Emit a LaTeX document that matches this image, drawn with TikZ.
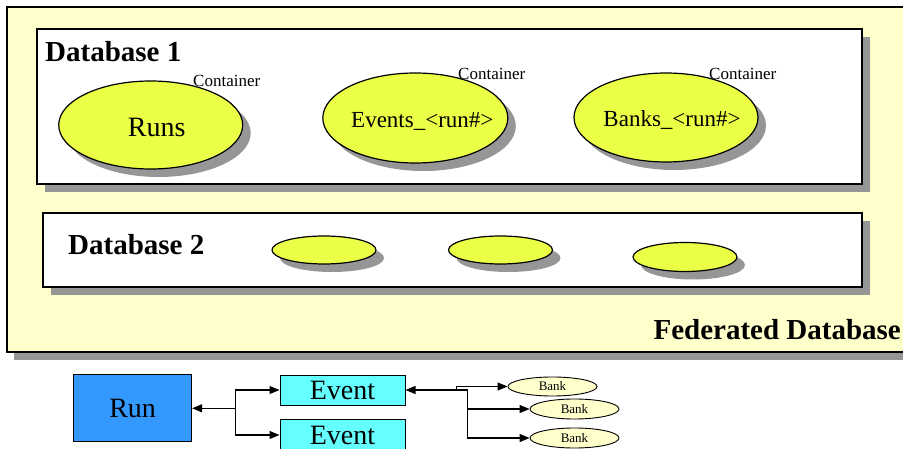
\documentclass[tikz,border=0pt]{standalone}
\usepackage{fontspec}
\setmainfont{Liberation Serif}
\usetikzlibrary{arrows.meta,shapes.geometric,shadows,positioning}
\definecolor{fedyellow}{RGB}{255,255,204}
\definecolor{contyellow}{RGB}{234,255,70}
\definecolor{shadowgray}{RGB}{150,150,150}
\definecolor{runblue}{RGB}{51,153,255}
\definecolor{eventcyan}{RGB}{102,255,255}
\definecolor{bankyellow}{RGB}{255,255,204}

\begin{document}
\begin{tikzpicture}[x=1pt, y=-1pt,
    shade box/.style={drop shadow={shadow xshift=8pt, shadow yshift=-8pt, fill=shadowgray, opacity=1}},
    db box/.style={rectangle, draw, line width=1.2pt, fill=white, inner sep=0pt, shade box},
    container/.style={ellipse, draw, line width=1.2pt, fill=contyellow, inner sep=0pt, shade box},
    db label/.style={anchor=base west, inner sep=0pt, font=\fontsize{29}{32}\bfseries\selectfont},
    cont label/.style={anchor=base west, inner sep=0pt, font=\fontsize{17}{19}\selectfont},
    obj box/.style={rectangle, draw, line width=1pt, inner sep=0pt, font=\fontsize{28}{30}\selectfont},
    bank/.style={ellipse, draw, line width=0.9pt, fill=bankyellow, inner sep=0pt,
        minimum width=89pt, minimum height=20pt, font=\fontsize{13}{14}\selectfont},
    link/.style={line width=1.1pt},
    tip/.tip={Triangle[length=10pt, width=8pt]}
]
\useasboundingbox (0,0) rectangle (903,449);
\clip (0,0) rectangle (903,449);

% === Federated database ===
\node[rectangle, draw, line width=1.5pt, fill=fedyellow, minimum width=923pt, minimum height=345pt,
    drop shadow={shadow xshift=7pt, shadow yshift=-8pt, fill=shadowgray, opacity=1}] (fed) at (468.5,179.5) {};
\node[anchor=base east, inner sep=0pt, font=\fontsize{29}{32}\bfseries\selectfont] (fedlabel) at (901,340) {Federated Database};

% === Database 1 ===
\node[db box, minimum width=825pt, minimum height=155pt] (db1) at (449.5,106.5) {};
\node[db label] (db1label) at (45,62) {Database 1};

\node[container, minimum width=184pt, minimum height=88pt,
    label={[xshift=6pt, yshift=-2pt, font=\fontsize{28}{30}\selectfont]center:Runs}] (runs) at (150.7,125) {};
\node[container, minimum width=185pt, minimum height=90pt,
    label={[xshift=7pt, yshift=-3pt, font=\fontsize{23}{25}\selectfont]center:Events\_<run\#>}] (events) at (415.3,118) {};
\node[container, minimum width=184pt, minimum height=89pt,
    label={[xshift=6pt, yshift=-3pt, font=\fontsize{23}{25}\selectfont]center:Banks\_<run\#>}] (banks) at (666,117.5) {};

\node[cont label] (runscont) at (193,87) {Container};
\node[cont label] (eventscont) at (458,80) {Container};
\node[cont label] (bankscont) at (709,80) {Container};

% === Database 2 ===
\node[db box, minimum width=819pt, minimum height=74pt] (db2) at (452.5,250) {};
\node[db label] (db2label) at (68,255) {Database 2};

\node[container, minimum width=104pt, minimum height=28pt] (c1) at (324,250) {};
\node[container, minimum width=104pt, minimum height=28pt] (c2) at (500.5,250) {};
\node[container, minimum width=104pt, minimum height=29pt] (c3) at (685,257) {};

% === Object hierarchy ===
\node[obj box, fill=runblue, minimum width=118pt, minimum height=67pt] (run) at (132.6,408.3) {Run};
\node[obj box, fill=eventcyan, minimum width=125pt, minimum height=30pt] (ev1) at (342.5,390) {Event};
\node[obj box, fill=eventcyan, minimum width=125pt, minimum height=32pt] (ev2) at (342.5,435) {Event};

\node[bank, minimum width=89pt, minimum height=19pt] (bank1) at (552.5,386.5) {Bank};
\node[bank] (bank2) at (574.5,409) {Bank};
\node[bank] (bank3) at (574.5,438) {Bank};

% Run <-> events
\coordinate[right=43.5pt of run.east] (rsplit);
\draw[link, {tip}-] (run.east) -- (rsplit);
\draw[link, -{tip}] (rsplit) |- (ev1.west);
\draw[link, -{tip}] (rsplit) |- (ev2.west);

% Event <-> banks
\coordinate[right=51pt of ev1.east] (bsplit1);
\coordinate[right=62pt of ev1.east] (bsplit);
\draw[link, {tip}-] (ev1.east) -- (bsplit);
\draw[link, -{tip}] (bsplit1) |- (bank1.west);
\draw[link, -{tip}] (bsplit) |- (bank2.west);
\draw[link, -{tip}] (bsplit) |- (bank3.west);

\end{tikzpicture}
\end{document}
